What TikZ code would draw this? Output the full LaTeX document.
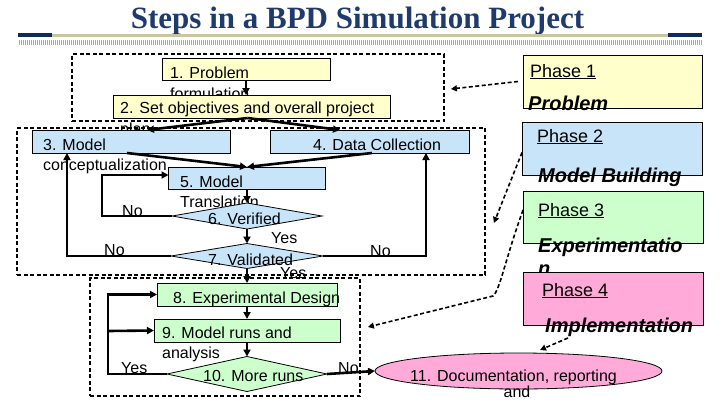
\documentclass[tikz,border=0pt]{standalone}
\usepackage{fontspec}
\setmainfont{Liberation Sans}
\newfontfamily\titlefont{Liberation Serif}
\usetikzlibrary{shapes.geometric,arrows.meta}
\definecolor{titleblue}{HTML}{1F3B6E}
\definecolor{navybar}{HTML}{0F2B5B}
\definecolor{khaki}{HTML}{C9C79F}
\definecolor{lav}{HTML}{A4A4C8}
\definecolor{hgray}{HTML}{A8A8A8}
\definecolor{yfill}{HTML}{FFFFCC}
\definecolor{bfill}{HTML}{C8E4F8}
\definecolor{gfill}{HTML}{CCFFCC}
\definecolor{pfill}{HTML}{FFAAD8}
\begin{document}
\begin{tikzpicture}[x=1pt,y=-1pt,
  boxbase/.style={draw=black, line width=0.8pt, inner sep=0pt, outer sep=0pt},
  ybox/.style={boxbase, rectangle, fill=yfill},
  bbox/.style={boxbase, rectangle, fill=bfill},
  gbox/.style={boxbase, rectangle, fill=gfill},
  pbox/.style={boxbase, rectangle, fill=pfill},
  bdia/.style={boxbase, diamond, fill=bfill},
  gdia/.style={boxbase, diamond, fill=gfill},
  txt/.style={anchor=base west, inner sep=0pt, font=\fontsize{16}{19}\selectfont},
  phtxt/.style={anchor=base west, inner sep=0pt, font=\fontsize{18}{21}\selectfont},
  phbig/.style={anchor=base west, inner sep=0pt, font=\fontsize{20}{23}\selectfont\bfseries\itshape},
  arr/.style={line width=2.6pt, -{Triangle[length=7pt,width=7pt]}},
  ln/.style={line width=2.6pt},
  dbox/.style={draw=black, rectangle, line width=1.8pt, dash pattern=on 4pt off 2.5pt, inner sep=0pt, fill=none},
  darr/.style={line width=1.6pt, dash pattern=on 4pt off 2.5pt, -{Triangle[length=6pt,width=6pt]}}
]
\useasboundingbox (0,0) rectangle (720,405);
\fill[white] (0,0) rectangle (720,405);

% title
\node[anchor=base, inner sep=0pt, text=titleblue, font=\titlefont\fontsize{31}{36}\selectfont\bfseries] (title) at (357.5,28) {Steps in a BPD Simulation Project};
\fill[navybar] (18,33) rectangle (52,37);
\fill[khaki] (52,33.5) rectangle (668,36.5);
\fill[navybar] (668,33) rectangle (702,37);
\fill[lav] (18,40) rectangle (702,42.5);
\fill[hgray] (18,42.5) rectangle (702,45);
\foreach \i in {0,...,341} {\draw[white, line width=0.6pt] (18.5+2*\i,40) -- (18.5+2*\i,45);}

% phase 1 steps
\node[ybox, minimum width=168pt, minimum height=22pt] (b1) at (246,69) {};
\node[txt] (t1a) at (170,78) {1. Problem};
\node[txt] (t1b) at (170,99) {formulation};
\node[ybox, minimum width=277pt, minimum height=23pt] (b2) at (251.5,106.5) {};
\node[txt] (t2a) at (120,113) {2. Set objectives and overall project};
\node[txt] (t2b) at (120,134) {plan};

% phase 2 steps
\node[bbox, minimum width=198pt, minimum height=23pt] (b3) at (131,141.5) {};
\node[txt] (t3a) at (43,150) {3. Model};
\node[txt] (t3b) at (43,170) {conceptualization};
\node[bbox, minimum width=199pt, minimum height=23pt] (b4) at (369.5,141.5) {};
\node[txt] (t4) at (313,150) {4. Data Collection};
\node[bbox, minimum width=157pt, minimum height=22pt] (b5) at (247,178) {};
\node[txt] (t5a) at (180,187) {5. Model};
\node[txt] (t5b) at (180,207) {Translation};
\node[bdia, minimum width=150pt, minimum height=26pt] (d6) at (247,216) {};
\node[txt] (t6) at (208,224) {6. Verified};
\node[bdia, minimum width=152pt, minimum height=25pt] (d7) at (247,256) {};
\node[txt] (t7) at (208,265) {7. Validated};

% phase 3 steps
\node[gbox, minimum width=180pt, minimum height=23pt] (b8) at (247,294.5) {};
\node[txt] (t8) at (173,303) {8. Experimental Design};
\node[gbox, minimum width=186pt, minimum height=23pt] (b9) at (247,330.5) {};
\node[txt] (t9a) at (162,338) {9. Model runs and};
\node[txt] (t9b) at (162,358) {analysis};
\node[gdia, minimum width=160pt, minimum height=35pt] (d10) at (247,374) {};
\node[txt] (t10) at (203,381) {10. More runs};

% phase 4 step
\node[boxbase, ellipse, fill=pfill, minimum width=287pt, minimum height=36pt] (e11) at (518.5,371) {};
\node[txt] (t11a) at (410,381) {11. Documentation, reporting};
\node[txt, anchor=base] (t11b) at (517,397) {and};

% phase legend boxes
\node[ybox, minimum width=179pt, minimum height=53pt] (p1) at (612.5,81.5) {};
\node[phtxt] (p1a) at (530,77) {\underline{Phase 1}};
\node[phbig] (p1b) at (528,110) {Problem};
\node[bbox, minimum width=180pt, minimum height=53pt] (p2) at (612,148.5) {};
\node[phtxt] (p2a) at (537,142) {\underline{Phase 2}};
\node[phbig] (p2b) at (538,182) {Model Building};
\node[gbox, minimum width=180pt, minimum height=52pt] (p3) at (613,217) {};
\node[phtxt] (p3a) at (538,216) {\underline{Phase 3}};
\node[phbig] (p3b) at (538,252) {Experimentatio};
\node[phbig] (p3c) at (538,275) {n};
\node[pbox, minimum width=180pt, minimum height=53pt] (p4) at (613,298.5) {};
\node[phtxt] (p4a) at (542,296) {\underline{Phase 4}};
\node[phbig] (p4b) at (545,332) {Implementation};

% connectors
\draw[arr] (b1.south) -- (b1.south |- b2.north);
\draw[arr] ([xshift=-4pt]b2.south) -- ([xshift=16pt]b3.north);
\draw[arr] ([xshift=-4pt]b2.south) -- ([xshift=-29.5pt]b4.north);
\draw[arr] ([xshift=-4pt]b3.south) -- (b5.north);
\draw[arr] ([xshift=2.5pt]b4.south) -- (b5.north);
\draw[arr] (b5.south) -- (d6.north);
\draw[arr] (d6.south) -- (d7.north);
\draw[arr] (d7.south) -- (b8.north);
\draw[arr] (d6.west) -- ++(-70,0) |- ([yshift=3pt]b5.west);
\draw[arr] (d7.west) -| ([xshift=-64pt]b3.south);
\draw[arr] (d7.east) -| ([xshift=56.5pt]b4.south);
\draw[arr] (b8.south) -- (b9.north);
\draw[arr] (b9.south) -- (d10.north);
\draw[arr] (d10.west) -- ++(-59,0) |- (b8.west);
\coordinate (loopx) at (108,331);
\draw[arr] (loopx) -- (b9.west);
\draw[arr] (d10.east) -- (e11.west);

% branch labels
\node[txt] (no1) at (122,216) {No};
\node[txt] (no2) at (104,255) {No};
\node[txt] (no3) at (370,256) {No};
\node[txt] (yes1) at (271,243) {Yes};
\node[txt] (yes2) at (280,278) {Yes};
\node[txt] (yes3) at (121,373) {Yes};
\node[txt] (no4) at (338,373) {No};

% phase regions
\node[dbox, minimum width=372pt, minimum height=67pt] (pb1) at (258,87.5) {};
\node[dbox, minimum width=468pt, minimum height=147pt] (pb2) at (251,201.5) {};
\node[dbox, minimum width=270pt, minimum height=118pt] (pb3) at (225,337) {};

% phase pointers
\draw[darr] ([xshift=-5pt]p1.west) -- ([xshift=6pt,yshift=-1.5pt]pb1.east);
\draw[darr] ([yshift=-4pt]p2.west) -- ([xshift=8pt,yshift=-21.5pt]pb2.east);
\coordinate (c3) at (493,296);
\draw[darr] ([yshift=7pt]p3.west) .. controls (505,260) and (500,290) .. (c3) -- ([xshift=7pt,yshift=10pt]pb3.east);
\draw[darr] ([xshift=-45pt,yshift=-13pt]p4.south) -- ([xshift=21.5pt,yshift=3pt]e11.north);
\end{tikzpicture}
\end{document}
